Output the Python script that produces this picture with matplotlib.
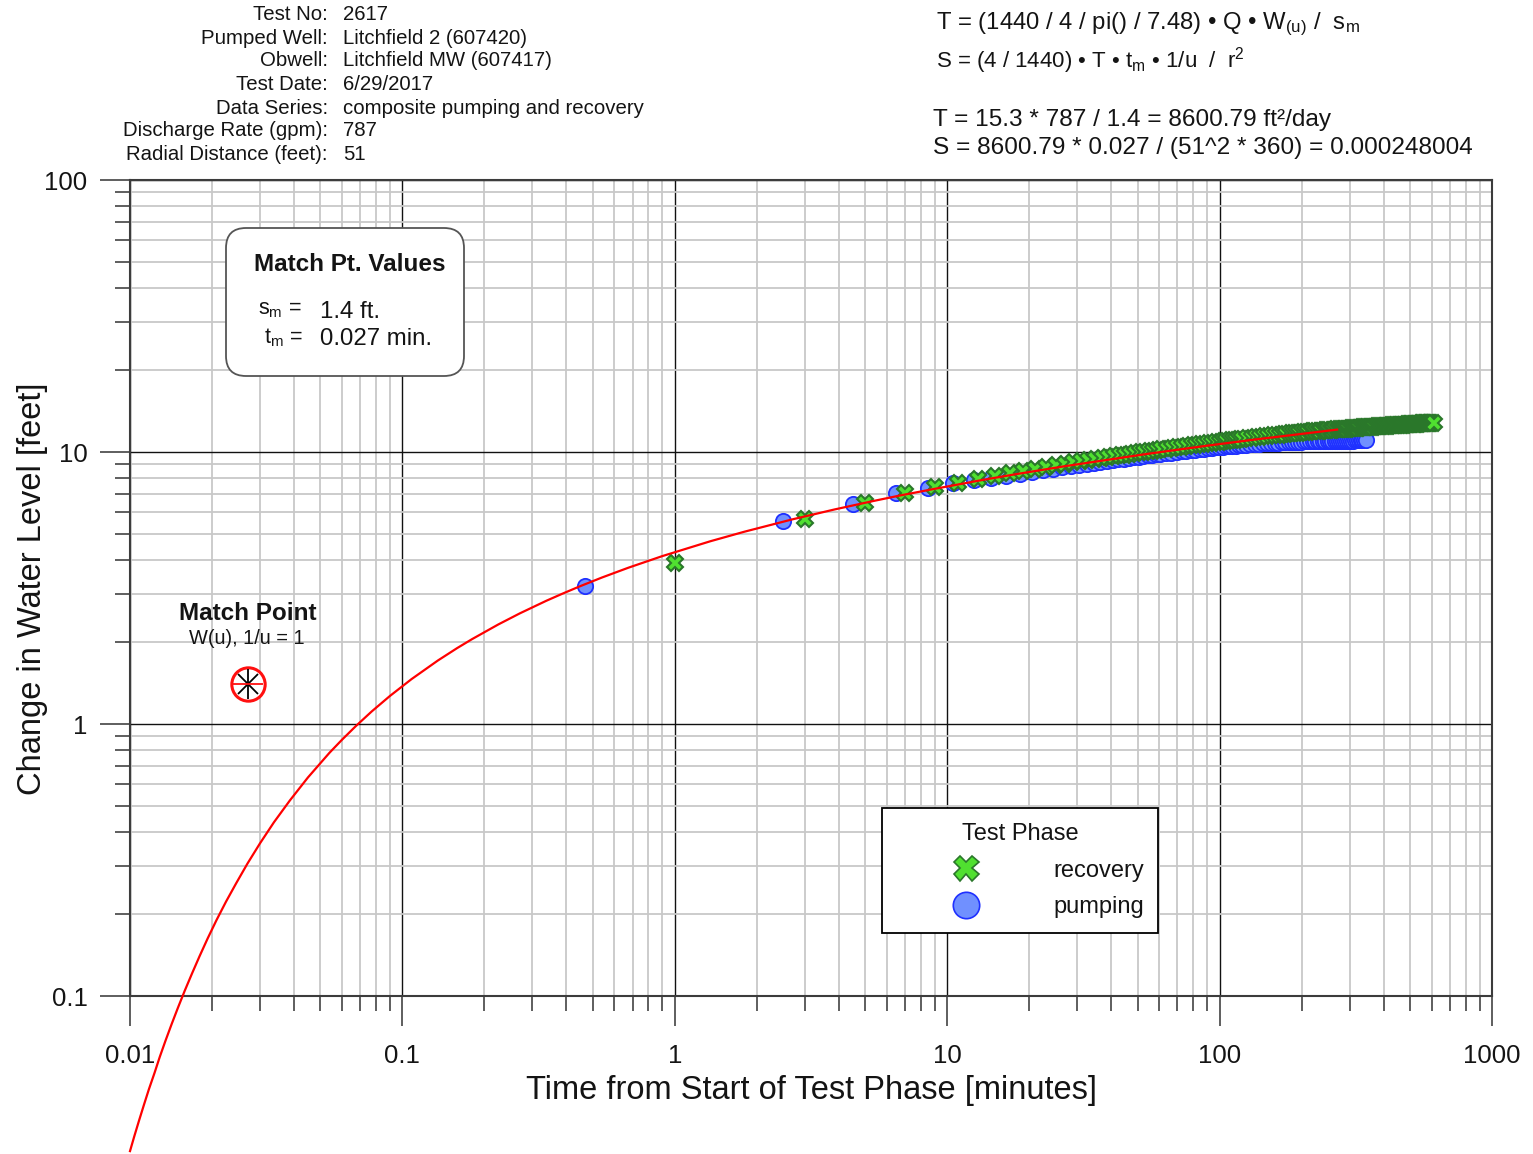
import matplotlib
matplotlib.use("Agg")
import matplotlib.pyplot as plt
from matplotlib.patches import FancyBboxPatch
from matplotlib.lines import Line2D
from matplotlib.ticker import LogLocator, FixedLocator, FixedFormatter, NullFormatter

plt.rcParams['font.family'] = ['Liberation Sans', 'DejaVu Sans']
plt.rcParams['mathtext.fontset'] = 'custom'
plt.rcParams['mathtext.rm'] = 'Liberation Sans'
plt.rcParams['mathtext.it'] = 'Liberation Sans:italic'

# ---- data ----
# pumping phase (drawdown, feet vs minutes)
pump_t = [0.47, 2.5, 4.5, 6.5, 8.5,
          10.5, 12.5, 14.5, 16.5, 18.5, 20.5, 22.5, 24.5, 26.5, 28.5, 30.5, 32.5, 34.5,
          36.5, 38.5, 40.5, 42.5, 44.5, 46.5, 48.5, 50.5, 52.5, 54.5, 56.5, 58.5, 60.5,
          63.5, 66.5, 69.5, 72.5, 75.5, 78.5, 81.5, 84.5, 87.5, 90.5, 93.5, 96.5, 99.5,
          102.5, 105.5, 108.5, 111.5, 114.5, 117.5, 120.5, 124.5, 129.5, 134.5, 139.5,
          144.5, 149.5, 154.5, 159.5, 164.5, 169.5, 174.5, 179.5, 184.5, 189.5, 194.5,
          199.5, 204.5, 209.5, 214.5, 219.5, 224.5, 229.5, 234.5, 239.5, 244.5, 249.5,
          254.5, 259.5, 264.5, 269.5, 274.5, 279.5, 284.5, 289.5, 294.5, 299.5, 304.5,
          309.5, 314.5, 319.5, 324.5, 329.5, 334.5, 339.5, 344.5]
pump_s = [3.21, 5.58, 6.45, 7.05, 7.37,
          7.66, 7.87, 8.04, 8.19, 8.33, 8.45, 8.57, 8.68, 8.78, 8.88, 8.96, 9.05, 9.12,
          9.20, 9.26, 9.33, 9.39, 9.45, 9.51, 9.56, 9.61, 9.66, 9.71, 9.75, 9.80, 9.84,
          9.90, 9.95, 10.01, 10.06, 10.10, 10.15, 10.20, 10.24, 10.28, 10.32, 10.36, 10.40,
          10.43, 10.46, 10.49, 10.51, 10.53, 10.55, 10.58, 10.60, 10.62, 10.66, 10.69,
          10.72, 10.75, 10.78, 10.79, 10.81, 10.83, 10.84, 10.85, 10.87, 10.88, 10.89,
          10.91, 10.92, 10.93, 10.93, 10.94, 10.94, 10.95, 10.95, 10.96, 10.96, 10.97,
          10.97, 10.98, 10.98, 10.99, 10.99, 11.0, 11.0, 11.0, 11.01, 11.01, 11.02, 11.02,
          11.02, 11.03, 11.03, 11.04, 11.04, 11.04, 11.05, 11.05]

# recovery phase (residual change, feet vs minutes)
rec_t = [1, 3, 5, 7, 9,
         11, 13, 15, 17, 19, 21, 23, 25, 27, 29, 31, 33, 35, 37, 39, 41, 43, 45, 47, 49,
         51, 53, 55, 57, 59, 61, 64, 67, 70, 73, 76, 79, 82, 85, 88, 91, 94, 97, 100, 103,
         106, 109, 112, 115, 118, 121, 126, 131, 136, 141, 146, 151, 156, 161, 166, 171,
         176, 181, 186, 191, 196, 201, 206, 211, 216, 221, 226, 231, 236, 241, 246, 251,
         256, 261, 266, 271, 276, 281, 286, 291, 296, 301, 306, 311, 316, 321, 326, 331,
         336, 341, 346, 352, 358, 364, 370, 376, 382, 388, 394, 400, 406, 412, 418, 424,
         430, 436, 442, 448, 454, 460, 466, 472, 478, 484, 490, 496, 502, 508, 514, 520,
         526, 532, 538, 544, 550, 556, 562, 568, 574, 580, 586, 592, 598, 604, 610]
rec_s = [3.91, 5.67, 6.49, 7.07, 7.43,
         7.72, 7.97, 8.18, 8.37, 8.53, 8.68, 8.81, 8.93, 9.04, 9.15, 9.25, 9.34, 9.42,
         9.50, 9.58, 9.65, 9.72, 9.78, 9.85, 9.91, 9.96, 10.02, 10.07, 10.12, 10.17, 10.22,
         10.29, 10.35, 10.41, 10.47, 10.53, 10.58, 10.64, 10.69, 10.73, 10.78, 10.83,
         10.87, 10.91, 10.95, 10.99, 11.03, 11.07, 11.10, 11.14, 11.17, 11.23, 11.28,
         11.33, 11.38, 11.42, 11.47, 11.51, 11.55, 11.59, 11.62, 11.66, 11.70, 11.73,
         11.76, 11.79, 11.83, 11.85, 11.88, 11.90, 11.92, 11.94, 11.97, 11.99, 12.01,
         12.03, 12.05, 12.06, 12.08, 12.10, 12.12, 12.14, 12.15, 12.17, 12.19, 12.20,
         12.22, 12.24, 12.25, 12.27, 12.28, 12.29, 12.31, 12.32, 12.33, 12.34, 12.36,
         12.37, 12.39, 12.40, 12.41, 12.43, 12.44, 12.45, 12.47, 12.48, 12.49, 12.51,
         12.52, 12.53, 12.54, 12.55, 12.57, 12.58, 12.59, 12.60, 12.61, 12.62, 12.63,
         12.64, 12.65, 12.66, 12.67, 12.68, 12.69, 12.70, 12.71, 12.72, 12.73, 12.74,
         12.75, 12.76, 12.77, 12.78, 12.79, 12.80, 12.80, 12.81, 12.82, 12.83]

# matched type curve
curve_t = [0.01, 0.01038, 0.0108, 0.01125, 0.01174, 0.0123, 0.01286, 0.0135, 0.01421, 0.015,
           0.01588, 0.01688, 0.018, 0.01929, 0.02077, 0.0225, 0.02455, 0.027, 0.03, 0.03375,
           0.0386, 0.045, 0.054, 0.06, 0.0675, 0.07714, 0.09, 0.108, 0.135, 0.1588, 0.18,
           0.225, 0.27, 0.3375, 0.386, 0.45, 0.54, 0.675, 0.9, 1.35, 1.8, 2.7, 3.86, 5.4,
           6.75, 9.0, 13.5, 18, 27, 54, 90, 135, 270]
curve_s = [0.0269, 0.0306, 0.0349, 0.0398, 0.0455, 0.0521, 0.0597, 0.0685, 0.0787, 0.0906,
           0.1045, 0.1208, 0.140, 0.163, 0.190, 0.222, 0.260, 0.307, 0.364, 0.435,
           0.523, 0.636, 0.784, 0.875, 0.983, 1.112, 1.268, 1.462, 1.712, 1.901, 2.050,
           2.323, 2.552, 2.838, 3.011, 3.213, 3.455, 3.754, 4.143, 4.697, 5.092, 5.653,
           6.149, 6.616, 6.928, 7.322, 7.895, 8.297, 8.865, 9.834, 10.549, 11.116, 12.087]

match_t = 0.027
match_s = 1.4

x_ticks = [0.01, 0.1, 1, 10, 100, 1000]
x_labels = ['0.01', '0.1', '1', '10', '100', '1000']
y_ticks = [0.1, 1, 10, 100]
y_labels = ['0.1', '1', '10', '100']

info_keys = ['Test No:', 'Pumped Well:', 'Obwell:', 'Test Date:', 'Data Series:',
             'Discharge Rate (gpm):', 'Radial Distance (feet):']
info_vals = ['2617', 'Litchfield 2 (607420)', 'Litchfield MW (607417)', '6/29/2017',
             'composite pumping and recovery', '787', '51']

W, H = 1533, 1154
fig = plt.figure(figsize=(W / 100, H / 100), dpi=100)
ax = fig.add_axes([130 / W, 1 - 996 / H, 1362 / W, 816 / H])


def px(x, y):
    return x / W, 1 - y / H


txt = '#141414'

ax.set_xscale('log')
ax.set_yscale('log')
ax.set_xlim(0.01, 1000)
ax.set_ylim(0.1, 100)

ax.xaxis.set_major_locator(FixedLocator(x_ticks))
ax.xaxis.set_major_formatter(FixedFormatter(x_labels))
ax.yaxis.set_major_locator(FixedLocator(y_ticks))
ax.yaxis.set_major_formatter(FixedFormatter(y_labels))
ax.xaxis.set_minor_locator(LogLocator(base=10, subs=range(2, 10), numticks=20))
ax.yaxis.set_minor_locator(LogLocator(base=10, subs=range(2, 10), numticks=20))
ax.xaxis.set_minor_formatter(NullFormatter())
ax.yaxis.set_minor_formatter(NullFormatter())

ax.grid(which='minor', color='#c8c8c8', linewidth=1.3, zorder=0)
ax.grid(which='major', color='#111111', linewidth=1.0, zorder=1)
ax.set_axisbelow(True)
for sp in ax.spines.values():
    sp.set_color('#3c3c3c')
    sp.set_linewidth(1.5)

ax.tick_params(which='major', direction='out', length=21.6, width=1.1, color='#333333',
               labelsize=18.5, labelcolor=txt)
ax.tick_params(which='minor', direction='out', length=10.8, width=1.1, color='#333333')
ax.tick_params(axis='x', which='major', pad=13)
ax.tick_params(axis='y', which='major', pad=9)

ax.plot(pump_t, pump_s, linestyle='none', marker='o', markersize=11,
        markerfacecolor='#7090ff', markeredgecolor='#1f30ff',
        markeredgewidth=1.3, zorder=3)
ax.plot(rec_t, rec_s, linestyle='none', marker='X', markersize=11,
        markerfacecolor='#50e030', markeredgecolor='#2a772a',
        markeredgewidth=1.5, zorder=4)
ax.plot(curve_t, curve_s, color='#ff0000', linewidth=1.6, zorder=5, clip_on=False)

# match point symbol
ax.plot([match_t], [match_s], marker='o', markersize=24, markerfacecolor='white',
        markeredgecolor='#ff1010', markeredgewidth=2.2, linestyle='none', zorder=6)
ax.plot([match_t], [match_s], marker='x', markersize=15, markeredgecolor='black',
        markeredgewidth=1.3, linestyle='none', zorder=7)
ax.plot([match_t], [match_s], marker='|', markersize=21, markeredgecolor='black',
        markeredgewidth=1.3, linestyle='none', zorder=7)
ax.plot([match_t], [match_s], marker='_', markersize=21, markeredgecolor='#ff1010',
        markeredgewidth=1.3, linestyle='none', zorder=7)
fig.text(*px(248, 613), 'Match Point', fontsize=17.5, fontweight='bold', color=txt,
         ha='center', va='center')
fig.text(*px(247, 639), 'W(u), 1/u = 1', fontsize=14.4, color=txt, ha='center', va='center')

# match point values box
box = FancyBboxPatch((2.26, (H - 376) / 100), 2.38, 1.48,
                     boxstyle='round,pad=0,rounding_size=0.2',
                     transform=fig.dpi_scale_trans, facecolor='white',
                     edgecolor='#555555', linewidth=1.3, zorder=8)
fig.add_artist(box)
fig.text(*px(254, 264), 'Match Pt. Values', fontsize=17.5, fontweight='bold', color=txt,
         ha='left', va='center', zorder=9)
fig.text(*px(258, 310), r's$_{\rm m}$ =', fontsize=15.5, color=txt, ha='left', va='center',
         zorder=9)
fig.text(*px(264, 338), r't$_{\rm m}$ =', fontsize=15.5, color=txt, ha='left', va='center',
         zorder=9)
fig.text(*px(320, 312), '1.4 ft.', fontsize=17.3, color=txt, ha='left', va='center', zorder=9)
fig.text(*px(320, 339), '0.027 min.', fontsize=17.3, color=txt, ha='left', va='center',
         zorder=9)

# legend
h_rec = Line2D([], [], linestyle='none', marker='X', markersize=18,
               markerfacecolor='#50e030', markeredgecolor='#2a772a', markeredgewidth=1.2)
h_pump = Line2D([], [], linestyle='none', marker='o', markersize=19,
                markerfacecolor='#7090ff', markeredgecolor='#1f30ff', markeredgewidth=1.2)
leg = ax.legend([h_rec, h_pump], ['recovery', 'pumping'], title='Test Phase',
                loc='lower left', bbox_to_anchor=((882 - 130) / 1362, (996 - 933) / 816),
                fontsize=17, title_fontsize=17, frameon=True, fancybox=False,
                edgecolor='black', framealpha=1, borderpad=0.62, labelspacing=0.62,
                handlelength=5.9, handletextpad=0.72, borderaxespad=0)
leg.get_frame().set_linewidth(1.3)
leg.set_zorder(10)
for t in leg.get_texts():
    t.set_color(txt)
leg.get_title().set_color(txt)

# axis labels
fig.text(*px(811, 1090), 'Time from Start of Test Phase [minutes]', fontsize=23.5,
         color=txt, ha='center', va='center')
fig.text(*px(33, 589), 'Change in Water Level [feet]', fontsize=23.5, color=txt,
         ha='center', va='center', rotation=90)

# header information
rows_y = [15, 38, 61, 84, 108, 131, 154]
for k, v, y in zip(info_keys, info_vals, rows_y):
    fig.text(*px(328, y), k, fontsize=14.7, color=txt, ha='right', va='center')
    fig.text(*px(343, y), v, fontsize=14.7, color=txt, ha='left', va='center')

fig.text(*px(936, 24),
         'T = (1440 / 4 / pi() / 7.48) \u2022 Q \u2022 W$_{\\rm (u)}$ /  s$_{\\rm m}$',
         fontsize=17.2, color=txt, ha='left', va='center')
fig.text(*px(936, 61),
         'S = (4 / 1440) \u2022 T \u2022 t$_{\\rm m}$ \u2022 1/u  /  r$^{2}$',
         fontsize=16, color=txt, ha='left', va='center')
fig.text(*px(933, 120), 'T = 15.3 * 787 / 1.4 = 8600.79 ft\u00b2/day', fontsize=17.6,
         color=txt, ha='left', va='center')
fig.text(*px(933, 148), 'S = 8600.79 * 0.027 / (51^2 * 360) = 0.000248004', fontsize=17.6,
         color=txt, ha='left', va='center')

fig.savefig('out.png', dpi=100)
